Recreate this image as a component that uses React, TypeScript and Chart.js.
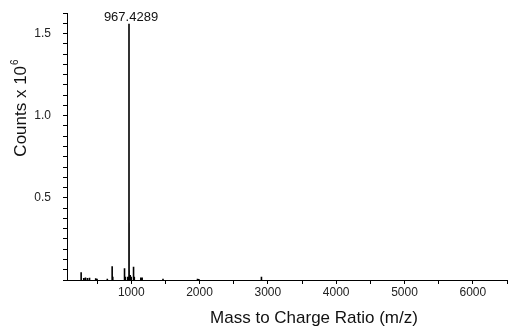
import React, { useEffect, useRef } from "react";
import { Chart, registerables } from "chart.js";

Chart.register(...registerables);

// m/z of each peak and its height in counts x 10^6
const peakMz = [267, 305, 330, 360, 390, 480, 500, 650, 721, 730, 902, 915, 950, 967.4289, 968.4, 969.4, 985, 1000, 1034, 1045, 1140, 1160, 1465, 1970, 1990, 2906];
const peakCounts = [0.047, 0.012, 0.015, 0.012, 0.014, 0.01, 0.008, 0.008, 0.083, 0.02, 0.071, 0.02, 0.02, 1.56, 0.35, 0.06, 0.03, 0.02, 0.08, 0.02, 0.015, 0.015, 0.008, 0.008, 0.006, 0.02];
const peakLabel = "967.4289";
const labelMz = 967.4289;
const labelCount = 1.56;
const xTitle = "Mass to Charge Ratio (m/z)";
const yTitle = "Counts x 10";
const yTitleExp = "6";
const yLabels = [0.5, 1.0, 1.5];
const xLabels = [1000, 2000, 3000, 4000, 5000, 6000];
const xTickStep = 500;
const yTickStep = 0.0625;

const FONT = "'Liberation Sans', Arial, Helvetica, sans-serif";

export default function App() {
  const ref = useRef<HTMLCanvasElement | null>(null);
  useEffect(() => {
    if (!ref.current) return;
    const pts: { x: number; y: number | null }[] = [];
    peakMz.forEach((m, i) => {
      pts.push({ x: m, y: 0 });
      pts.push({ x: m, y: peakCounts[i] });
      pts.push({ x: m, y: null });
    });
    const titlePlugin = {
      id: "titles",
      afterDraw(chart: any) {
        const ctx = chart.ctx;
        const xs = chart.scales.x;
        const ys = chart.scales.y;
        ctx.save();
        ctx.fillStyle = "#111";
        ctx.font = `13px ${FONT}`;
        ctx.textAlign = "center";
        ctx.textBaseline = "alphabetic";
        ctx.fillText(peakLabel, xs.getPixelForValue(labelMz) + 2, ys.getPixelForValue(labelCount) - 3);
        ctx.font = `17px ${FONT}`;
        ctx.textAlign = "center";
        ctx.textBaseline = "middle";
        ctx.fillText(xTitle, 314, 318);
        ctx.translate(21, 108);
        ctx.rotate(-Math.PI / 2);
        ctx.font = `17px ${FONT}`;
        const w1 = ctx.measureText(yTitle).width;
        ctx.font = `10px ${FONT}`;
        const w2 = ctx.measureText(yTitleExp).width;
        const total = w1 + w2 + 1;
        ctx.textAlign = "left";
        ctx.textBaseline = "middle";
        ctx.font = `17px ${FONT}`;
        ctx.fillText(yTitle, -total / 2, 0);
        ctx.font = `10px ${FONT}`;
        ctx.fillText(yTitleExp, -total / 2 + w1 + 1, -6);
        ctx.restore();
      },
    };
    const chart = new Chart(ref.current, {
      type: "line",
      data: {
        datasets: [
          {
            data: pts as any,
            borderColor: "#000",
            borderWidth: 1.6,
            pointRadius: 0,
            tension: 0,
            fill: false,
            spanGaps: false,
          },
        ],
      },
      options: {
        responsive: false,
        animation: false,
        layout: { padding: { top: 13, right: 2, left: 0, bottom: 0 } },
        plugins: { legend: { display: false }, tooltip: { enabled: false } },
        scales: {
          x: {
            type: "linear",
            min: 60,
            max: 6500,
            afterFit: (s: any) => {
              s.height = 55;
              s.paddingLeft = 0;
              s.paddingRight = 0;
            },
            afterBuildTicks: (s: any) => {
              const t = [];
              for (let v = xTickStep; v <= s.max + 1e-6; v += xTickStep) t.push({ value: v });
              s.ticks = t;
            },
            border: { display: true, color: "#000", width: 1 },
            grid: { display: true, drawOnChartArea: false, drawTicks: true, tickLength: 4, color: "#000", lineWidth: 1 },
            ticks: {
              autoSkip: false,
              maxRotation: 0,
              padding: 1,
              color: "#222",
              font: { family: FONT, size: 12 },
              callback: (v: any) => (xLabels.includes(Math.round(Number(v))) ? String(Math.round(Number(v))) : ""),
            },
          },
          y: {
            type: "linear",
            min: 0,
            max: 1.625,
            afterFit: (s: any) => {
              s.width = 67;
              s.paddingTop = 0;
              s.paddingBottom = 0;
            },
            afterBuildTicks: (s: any) => {
              const t = [];
              for (let i = 0; i * yTickStep <= s.max + 1e-9; i++) t.push({ value: i * yTickStep });
              s.ticks = t;
            },
            border: { display: true, color: "#000", width: 1 },
            grid: { display: true, drawOnChartArea: false, drawTicks: true, tickLength: 4, color: "#000", lineWidth: 1 },
            ticks: {
              autoSkip: false,
              padding: 12,
              color: "#222",
              font: { family: FONT, size: 12 },
              callback: (v: any) => {
                const n = Number(v);
                const hit = yLabels.find((l) => Math.abs(l - n) < 1e-6);
                return hit !== undefined ? hit.toFixed(1) : "";
              },
            },
          },
        },
      },
      plugins: [titlePlugin],
    });
    return () => chart.destroy();
  }, []);
  return (
    <div style={{ position: "absolute", left: 0, top: 0, width: 509, height: 335, background: "#fff" }}>
      <canvas ref={ref} width={509} height={335} style={{ display: "block" }} />
    </div>
  );
}
